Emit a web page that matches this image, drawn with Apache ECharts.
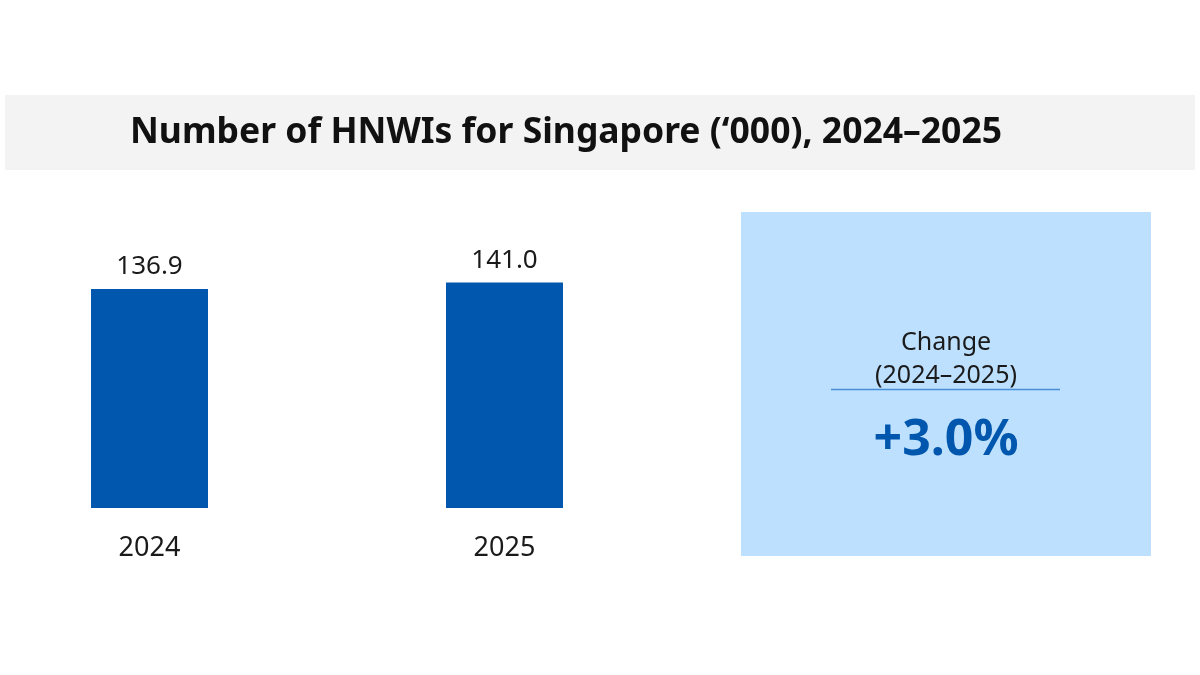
<!DOCTYPE html>
<html>
<head>
<meta charset="utf-8">
<script src="https://cdn.jsdelivr.net/npm/echarts@6/dist/echarts.min.js"></script>
<style>
    html, body { margin: 0; padding: 0; background: #ffffff; }
    #chart { width: 1200px; height: 675px; }
</style>
</head>
<body>
<div id="chart"></div>
<script>
// data
const years = ['2024', '2025']
const hnwis = [136.9, 141.0] // '000
const titleText = 'Number of HNWIs for Singapore (‘000), 2024–2025'
const changeLabel = 'Change\n(2024–2025)'

const BLUE = '#0057ad'
const change = (hnwis[1] / hnwis[0] - 1) * 100
const changeText = (change >= 0 ? '+' : '') + change.toFixed(1) + '%'

const myChart = echarts.init(document.getElementById('chart'))
const option = {
    backgroundColor: '#ffffff',
    animation: false,
    title: {
        text: titleText,
        left: 561,
        top: 110,
        textAlign: 'center',
        textStyle: {
            fontFamily: 'Noto Sans',
            fontWeight: 'bold',
            fontSize: 35.5,
            color: '#111111',
        },
    },
    graphic: [
        // title band
        { type: 'rect', z: -10, shape: { x: 5, y: 95, width: 1190, height: 75 }, style: { fill: '#f3f3f3' } },
        // change box
        { type: 'rect', z: -10, shape: { x: 741, y: 212, width: 410, height: 344 }, style: { fill: '#bde0fe' } },
        {
            type: 'text', x: 946, y: 359,
            style: {
                text: changeLabel, align: 'center', verticalAlign: 'middle',
                font: '25px "Noto Sans"', fill: '#1a1a1a', lineHeight: 33,
            },
        },
        { type: 'line', shape: { x1: 831, y1: 389.5, x2: 1060, y2: 389.5 }, style: { stroke: '#4a8fd6', lineWidth: 1.5 } },
        {
            type: 'text', x: 946, y: 441,
            style: {
                text: changeText, align: 'center', verticalAlign: 'middle',
                font: 'bold 50px "Noto Sans"', fill: BLUE,
            },
        },
    ],
    grid: { left: 149.5, right: 695.5, top: 212, height: 296 },
    xAxis: {
        type: 'category',
        data: years,
        boundaryGap: false,
        axisLine: { show: false },
        axisTick: { show: false },
        axisLabel: { margin: 27, fontSize: 27, fontFamily: 'Noto Sans', color: '#1a1a1a' },
    },
    yAxis: {
        type: 'value',
        min: 0,
        max: 185,
        show: false,
        splitLine: { show: false },
    },
    series: [{
        type: 'bar',
        data: hnwis,
        barWidth: 117,
        clip: false,
        itemStyle: { color: BLUE },
        label: {
            show: true,
            position: 'top',
            distance: 9,
            formatter: (p) => p.value.toFixed(1),
            fontSize: 26,
            fontFamily: 'Noto Sans',
            color: '#1a1a1a',
        },
    }],
}
myChart.setOption(option)
</script>
</body>
</html>
